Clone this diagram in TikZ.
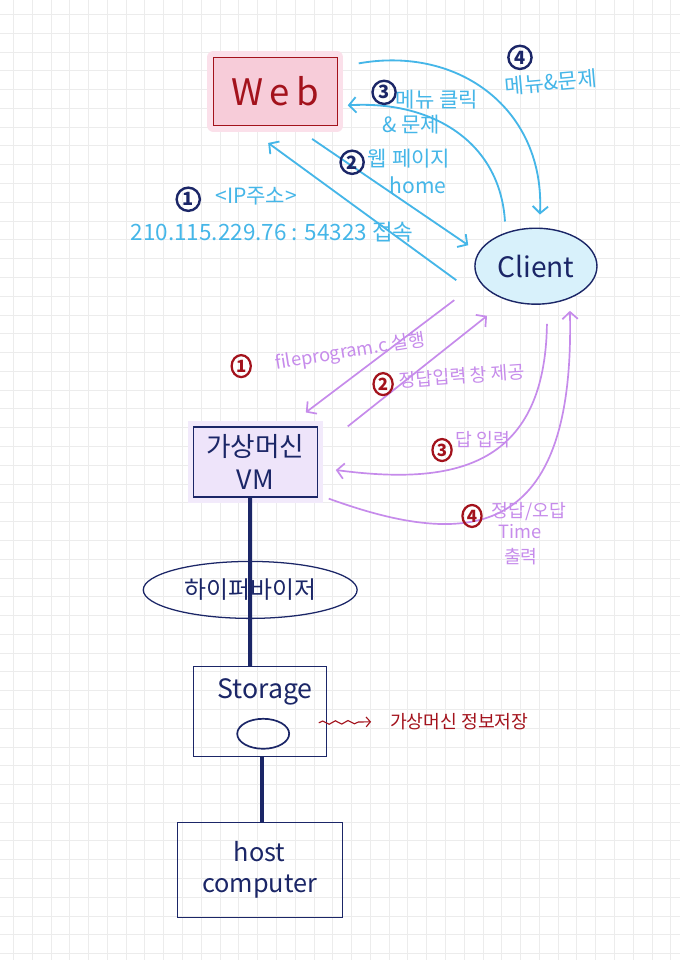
\documentclass[tikz,border=0pt]{standalone}
\usepackage{fontspec}
\setmainfont{Noto Sans CJK KR}
\usepackage{tikz}
\usetikzlibrary{arrows.meta,shapes.geometric,decorations.pathmorphing}

\definecolor{skyline}{HTML}{45B6E8}
\definecolor{lilac}{HTML}{C68BEB}
\definecolor{navy}{HTML}{1B2667}
\definecolor{wine}{HTML}{A3121C}
\definecolor{gridgray}{HTML}{ECECEC}
\definecolor{webpink}{HTML}{F7CCD9}
\definecolor{webhalo}{HTML}{FBE0EA}
\definecolor{clientblue}{HTML}{D8F1FB}
\definecolor{vmlilac}{HTML}{EEE4FA}
\definecolor{vmhalo}{HTML}{F2EAFB}

\begin{document}
\begin{tikzpicture}[x=0.025cm, y=-0.025cm,
  gridline/.style={gridgray, line width=0.6pt},
  box/.style={draw=navy, line width=0.9pt, inner sep=0pt},
  bluearrow/.style={skyline, line width=1.3pt, -{Straight Barb[length=5pt, width=11pt]}},
  purplearrow/.style={lilac, line width=1.2pt, -{Straight Barb[length=5pt, width=11pt]}},
  link/.style={navy, line width=2.8pt},
  bluetext/.style={text=skyline, inner sep=1pt, font=\fontsize{15}{17}\selectfont},
  purpletext/.style={text=lilac, inner sep=1pt, font=\fontsize{13}{15}\selectfont},
  bluecirc/.style={circle, draw=navy, text=navy, line width=1.7pt, inner sep=0pt, minimum size=0.58cm,
                   font=\fontsize{13}{13}\selectfont\bfseries},
  redcirc/.style={ellipse, draw=wine, text=wine, line width=1.6pt, inner sep=0pt, minimum width=0.48cm,
                  minimum height=0.55cm, font=\fontsize{12}{12}\selectfont\bfseries}]

  \fill[white] (0,0) rectangle (680,960);
  \foreach \g in {0,...,35} \draw[gridline] (13+\g*18.8,0) -- (13+\g*18.8,960);
  \foreach \g in {0,...,50} \draw[gridline] (0,14+\g*18.8) -- (680,14+\g*18.8);
  \useasboundingbox (0,0) rectangle (680,960);

  % nodes
  \node[box, draw=wine, fill=webpink, preaction={draw=webhalo, line width=9pt, line join=round},
        minimum width=3.1cm, minimum height=1.7cm, text=wine, font=\fontsize{26}{26}\selectfont] (web) at (275,91) {W\,e\,b};
  \node[ellipse, draw=navy, line width=1pt, fill=clientblue, minimum width=2.9cm, minimum height=1.9cm,
        text=navy, font=\fontsize{20}{20}\selectfont] (client) at (536,266) {Client};
  \node[box, fill=vmlilac, preaction={draw=vmhalo, line width=8pt}, minimum width=3.1cm, minimum height=1.75cm,
        align=center, text=navy, font=\fontsize{19}{23}\selectfont] (vm) at (255,462) {가상머신\\VM};
  \node[ellipse, draw=navy, line width=0.9pt, minimum width=5.35cm, minimum height=1.425cm,
        text=navy, font=\fontsize{17}{17}\selectfont] (hyper) at (250,590) {하이퍼바이저};
  \node[box, minimum width=3.325cm, minimum height=2.25cm] (storage) at (259.5,712) {};
  \node[text=navy, font=\fontsize{19}{19}\selectfont] (storagetxt) at (265,692) {Storage};
  \node[ellipse, draw=navy, line width=1.2pt, minimum width=1.3cm, minimum height=0.75cm] (disk) at (263,734) {};
  \node[box, minimum width=4.125cm, minimum height=2.375cm, align=center, text=navy,
        font=\fontsize{18}{22}\selectfont] (host) at (259.5,870.5) {host\\computer};
  \node[text=wine, anchor=west, font=\fontsize{13}{13}\selectfont] (info) at (385,722) {가상머신 정보저장};

  % links
  \draw[link] ([xshift=-0.125cm]vm.south) -- ([xshift=-0.2375cm]storage.north);
  \draw[link] ([xshift=0.0625cm]storage.south) -- ([xshift=0.0625cm]host.north);
  \draw[wine, line width=0.8pt, decorate, decoration={snake, amplitude=1.2pt, segment length=9pt, post length=5pt},
        -{Straight Barb[length=3pt, width=7pt]}] ([shift={(-8,11)}]storage.east) -- ([shift={(-14,0)}]info.west);

  % web <-> client
  \draw[bluearrow] ([shift={(-18,14)}]client.west) -- ([shift={(-7,17)}]web.south);
  \draw[bluearrow] ([shift={(37,13)}]web.south) -- ([shift={(-6,-21)}]client.west);
  \draw[bluearrow] ([shift={(-31,-6)}]client.north) .. controls (500,140) and (430,100) .. ([shift={(10,14)}]web.east);
  \draw[bluearrow] ([shift={(21,-28)}]web.east) .. controls (460,45) and (545,110) .. ([shift={(4,-13)}]client.north);

  % vm <-> client
  \draw[purplearrow] ([shift={(-20,34)}]client.west) -- ([shift={(-12,-14)}]vm.north east);
  \draw[purplearrow] ([shift={(30,0)}]vm.north east) -- ([shift={(-49,11)}]client.south);
  \draw[purplearrow] ([shift={(11,19)}]client.south) .. controls (545,470) and (450,485) .. ([shift={(18,8)}]vm.east);
  \draw[purplearrow] ([shift={(11,1)}]vm.south east) .. controls (470,550) and (575,540) .. ([shift={(34,6)}]client.south);

  % labels
  \node[bluecirc] (ipnum) at (188,199) {1};
  \node[bluetext] (ipkey) at (256,196) {<IP주소>};
  \node[bluetext, font=\fontsize{16}{16}\selectfont] (ipaddr) at (272,232) {210.115.229.76 : 54323 접속};
  \node[bluecirc] (pagenum) at (352,162) {2};
  \node[bluetext] (pagelbl) at (409,158) {웹 페이지};
  \node[bluetext] (homelbl) at (418,185) {home};
  \node[bluecirc] (menunum) at (384,92) {3};
  \node[bluetext] (menulbl) at (437,99) {메뉴 클릭};
  \node[bluetext] (problbl) at (411,124) {\& 문제};
  \node[bluecirc] (probnum) at (520,57) {4};
  \node[bluetext, rotate=5] (menuprob) at (551,82) {메뉴\&문제};

  \node[redcirc] (runnum) at (241,366) {1};
  \node[purpletext, rotate=9] (runlbl) at (350,352) {fileprogram.c 실행};
  \node[redcirc] (winnum) at (383,384) {2};
  \node[purpletext, rotate=4] (inputwin) at (462,376) {정답입력 창 제공};
  \node[redcirc] (ansnum) at (442,450) {3};
  \node[purpletext] (answer) at (483,440) {답 입력};
  \node[redcirc] (resnum) at (472,516) {4};
  \node[purpletext] (result) at (529,512) {정답/오답};
  \node[purpletext] (timelbl) at (520,532) {Time};
  \node[purpletext] (printlbl) at (521,557) {출력};
\end{tikzpicture}
\end{document}
